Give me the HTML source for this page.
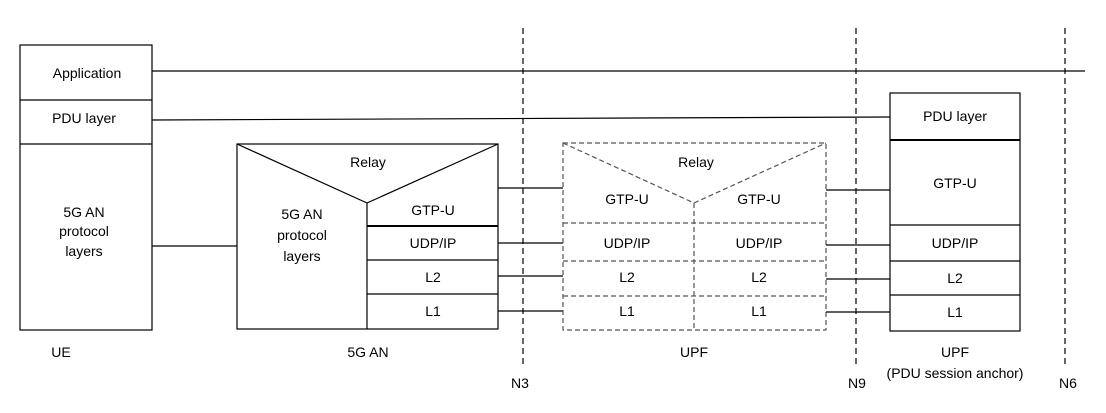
<!DOCTYPE html>
<html><head><style>
body{margin:0;background:#fff}
svg text{font-family:"Liberation Sans",sans-serif;font-size:14px;fill:#000}
</style></head><body>
<svg width="1106" height="408" viewBox="0 0 1106 408" xmlns="http://www.w3.org/2000/svg">
<g stroke="#000" stroke-width="1.2" fill="none">
<rect x="20" y="45" width="132" height="285"/>
<line x1="20" y1="100" x2="152" y2="100"/>
<line x1="20" y1="144" x2="152" y2="144"/>
<line x1="152" y1="71" x2="1085" y2="71"/>
<line x1="152" y1="120" x2="890" y2="117"/>
<line x1="152" y1="246" x2="237" y2="246"/>
<rect x="237" y="144" width="261" height="185"/>
<polyline points="237,144 367,203 498,144"/>
<line x1="367" y1="203" x2="367" y2="329"/>
<line x1="367" y1="226" x2="498" y2="226" stroke-width="2"/>
<line x1="367" y1="260" x2="498" y2="260"/>
<line x1="367" y1="294" x2="498" y2="294"/>
<line x1="498" y1="188" x2="563" y2="188"/>
<line x1="498" y1="243" x2="563" y2="243"/>
<line x1="498" y1="276" x2="563" y2="276"/>
<line x1="498" y1="311" x2="563" y2="311"/>
<g stroke="#555" stroke-dasharray="5,3">
<rect x="563" y="143" width="263" height="187"/>
<polyline points="563,143 694,203 826,143"/>
<line x1="694" y1="203" x2="694" y2="330"/>
<line x1="563" y1="223" x2="826" y2="223"/>
<line x1="563" y1="261" x2="826" y2="261"/>
<line x1="563" y1="296" x2="826" y2="296"/>
</g>
<line x1="826" y1="190" x2="890" y2="190"/>
<line x1="826" y1="245" x2="890" y2="245"/>
<line x1="826" y1="279" x2="890" y2="279"/>
<line x1="826" y1="312" x2="890" y2="312"/>
<rect x="890" y="93" width="130" height="238"/>
<line x1="890" y1="140" x2="1020" y2="140" stroke-width="2"/>
<line x1="890" y1="225" x2="1020" y2="225"/>
<line x1="890" y1="261" x2="1020" y2="261"/>
<line x1="890" y1="295" x2="1020" y2="295"/>
<g stroke-dasharray="6,4">
<line x1="523" y1="28" x2="523" y2="366"/>
<line x1="856" y1="28" x2="856" y2="366"/>
<line x1="1065" y1="28" x2="1065" y2="366"/>
</g>
</g>
<g text-anchor="middle">
<text x="87" y="78">Application</text>
<text x="84" y="123">PDU layer</text>
<text x="84" y="217">5G AN</text>
<text x="84" y="236">protocol</text>
<text x="84" y="256">layers</text>
<text x="368" y="167">Relay</text>
<text x="302" y="219">5G AN</text>
<text x="302" y="240">protocol</text>
<text x="302" y="261">layers</text>
<text x="433" y="215">GTP-U</text>
<text x="433" y="248">UDP/IP</text>
<text x="433" y="282">L2</text>
<text x="433" y="316">L1</text>
<text x="696" y="167">Relay</text>
<text x="627" y="204">GTP-U</text>
<text x="759" y="204">GTP-U</text>
<text x="627" y="248">UDP/IP</text>
<text x="759" y="248">UDP/IP</text>
<text x="627" y="282">L2</text>
<text x="759" y="282">L2</text>
<text x="627" y="316">L1</text>
<text x="759" y="316">L1</text>
<text x="955" y="121">PDU layer</text>
<text x="955" y="188">GTP-U</text>
<text x="955" y="248">UDP/IP</text>
<text x="955" y="283">L2</text>
<text x="955" y="317">L1</text>
<text x="61" y="357">UE</text>
<text x="368" y="357">5G AN</text>
<text x="694" y="357">UPF</text>
<text x="955" y="357">UPF</text>
<text x="955" y="378">(PDU session anchor)</text>
<text x="520" y="388">N3</text>
<text x="857" y="388">N9</text>
<text x="1068" y="388">N6</text>
</g>
</svg>
</body></html>
